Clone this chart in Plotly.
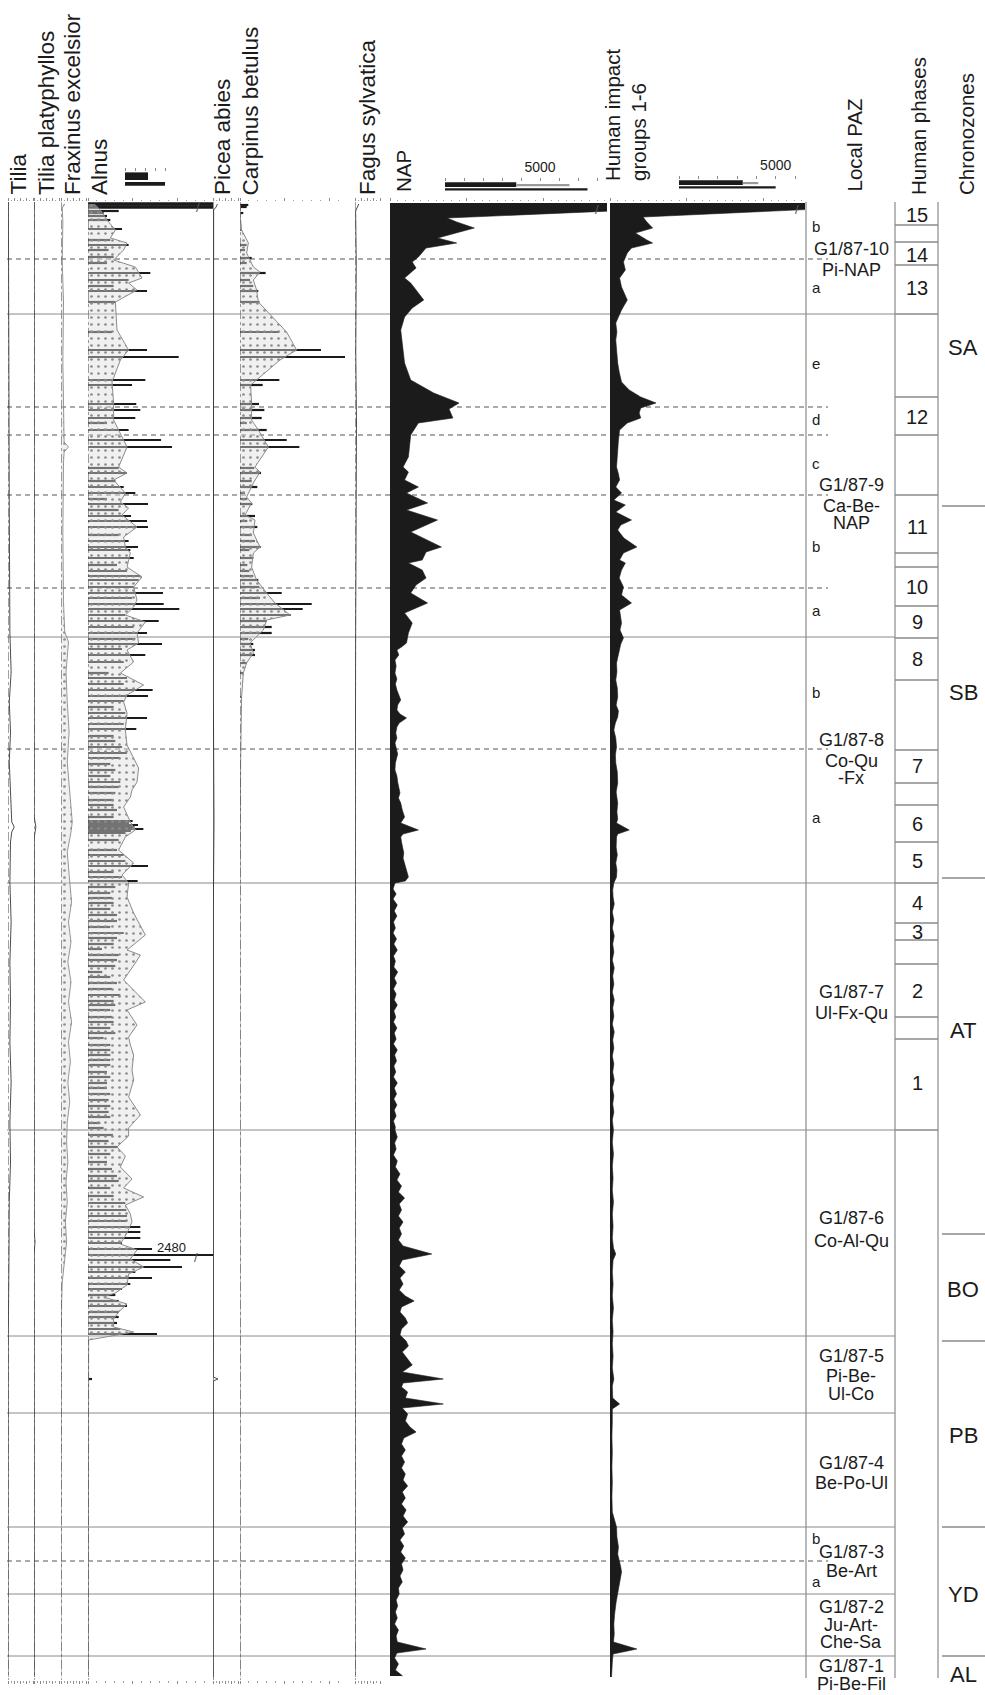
import plotly.graph_objects as go

W, H = 985, 1695
FONT = "Liberation Sans, Arial, Helvetica, sans-serif"
INK = "#1b1b1b"
TOP_PX = 202  # pixel row of depth 0

# ------------------------------------------------------------------ data
# depth scale (cm below top of section)
zone_solid = [112, 435, 681, 928, 1134, 1211, 1325, 1392, 1454]
zone_dashed = [57, 205, 233, 293, 386, 547, 1359]

phase_bounds = [23, 40, 63, 112, 195, 233, 293, 351, 365, 404, 436, 478, 548, 581,
                603, 640, 681, 721, 738, 762, 815, 837, 928]
phase_labels = ["15", "14", "13", "12", "11", "10", "9", "8", "7", "6", "5", "4", "3", "2", "1"]
phase_label_depth = [13, 53, 86, 215, 325, 385, 420, 457, 564, 622, 659, 701, 730, 789, 881]

chrono_bounds = [304, 676, 1032, 1139, 1325, 1454]
chrono_labels = ["SA", "SB", "AT", "BO", "PB", "YD", "AL"]
chrono_label_depth = [145, 491, 828, 1087, 1233, 1392, 1472]

paz_blocks = [
    (["G1/87-10", "Pi-NAP"], [47, 68]),
    (["G1/87-9", "Ca-Be-", "NAP"], [283, 304, 321]),
    (["G1/87-8", "Co-Qu", "-Fx"], [538, 559, 576]),
    (["G1/87-7", "Ul-Fx-Qu"], [790, 811]),
    (["G1/87-6", "Co-Al-Qu"], [1016, 1039]),
    (["G1/87-5", "Pi-Be-", "Ul-Co"], [1154, 1174, 1192]),
    (["G1/87-4", "Be-Po-Ul"], [1261, 1281]),
    (["G1/87-3", "Be-Art"], [1350, 1369]),
    (["G1/87-2", "Ju-Art-", "Che-Sa"], [1405, 1423, 1440]),
    (["G1/87-1", "Pi-Be-Fil"], [1464, 1482]),
]
subzone_letters = ["b", "a", "e", "d", "c", "b", "a", "b", "a", "b", "a"]
subzone_depth = [25, 85, 161, 218, 261, 344, 409, 491, 616, 1336, 1379]

# NAP (concentration)
nap_depth = [1, 6, 16, 20, 26, 36, 41, 46, 55, 60, 66, 76, 81, 98, 106, 115, 128, 148, 161, 178,
             191, 201, 207, 216, 221, 233, 255, 265, 270, 278, 285, 291, 301, 308, 318, 330, 345,
             350, 358, 361, 368, 376, 383, 391, 401, 411, 421, 431, 441, 445, 448, 453, 458, 464,
             471, 477, 482, 488, 493, 498, 503, 508, 512, 516, 521, 525, 531, 536, 541, 547, 552,
             555, 561, 568, 574, 580, 585, 591, 596, 601, 608, 615, 621, 628, 632, 635, 640, 645,
             651, 656, 661, 667, 671, 675, 679, 681, 687, 692, 697, 703, 709, 714, 720, 726, 731,
             737, 742, 748, 754, 759, 765, 770, 776, 781, 787, 792, 798, 803, 809, 815, 820, 826,
             831, 837, 842, 848, 853, 859, 864, 870, 875, 881, 886, 892, 897, 903, 908, 914, 919,
             925, 928, 935, 941, 947, 953, 959, 965, 972, 978, 984, 990, 996, 1002, 1008, 1014,
             1020, 1026, 1032, 1038, 1044, 1052, 1058, 1064, 1070, 1076, 1082, 1088, 1094, 1099,
             1105, 1110, 1116, 1121, 1127, 1133, 1139, 1144, 1150, 1156, 1163, 1170, 1177, 1181,
             1185, 1190, 1196, 1202, 1206, 1212, 1219, 1225, 1230, 1236, 1242, 1248, 1254, 1260,
             1266, 1272, 1278, 1284, 1290, 1296, 1302, 1308, 1314, 1320, 1326, 1332, 1338, 1344,
             1350, 1356, 1362, 1368, 1374, 1380, 1386, 1392, 1398, 1404, 1410, 1416, 1422, 1428,
             1434, 1440, 1447, 1451, 1456, 1462, 1468, 1474]
nap_value = [7500, 3800, 745, 870, 1100, 620, 870, 470, 370, 290, 340, 190, 270, 440, 290, 190, 140,
             170, 190, 270, 570, 900, 770, 820, 370, 270, 240, 170, 240, 190, 370, 215, 490, 215,
             620, 270, 670, 470, 420, 240, 420, 470, 340, 270, 490, 190, 290, 240, 215, 150, 90,
             115, 65, 80, 65, 90, 70, 90, 110, 140, 100, 90, 130, 215, 120, 90, 75, 90, 65, 80,
             100, 90, 70, 65, 90, 100, 115, 130, 110, 140, 160, 190, 140, 370, 170, 140, 150, 165,
             180, 170, 190, 215, 230, 240, 200, 65, 40, 80, 40, 95, 55, 90, 45, 70, 40, 85, 50, 95,
             45, 70, 50, 100, 55, 85, 45, 80, 55, 95, 50, 75, 45, 90, 55, 80, 45, 95, 60, 85, 50,
             75, 45, 95, 55, 85, 50, 90, 55, 80, 45, 70, 65, 95, 60, 80, 45, 95, 70, 130, 90, 150,
             110, 190, 120, 150, 110, 170, 120, 150, 110, 170, 545, 160, 120, 200, 130, 170, 120,
             200, 315, 150, 130, 200, 230, 150, 130, 210, 240, 160, 220, 290, 160, 695, 170, 150,
             230, 200, 695, 160, 230, 200, 260, 340, 180, 150, 200, 150, 190, 150, 200, 170, 230,
             160, 200, 150, 210, 170, 230, 160, 190, 130, 180, 140, 200, 150, 170, 130, 160, 110,
             120, 80, 100, 70, 95, 60, 110, 80, 95, 470, 90, 60, 110, 70, 165]

# Human impact groups 1-6 (concentration)
human_depth = [1, 6, 15, 20, 26, 31, 38, 41, 46, 51, 60, 68, 76, 85, 98, 108, 121, 130, 138, 150,
               161, 170, 180, 188, 195, 201, 206, 211, 216, 221, 228, 238, 248, 257, 265, 272, 278,
               285, 291, 298, 303, 310, 318, 323, 328, 336, 345, 351, 358, 361, 368, 376, 385, 393,
               401, 408, 414, 421, 428, 436, 442, 448, 455, 461, 470, 478, 486, 495, 503, 509, 515,
               521, 528, 536, 545, 553, 561, 570, 581, 590, 601, 610, 617, 621, 628, 632, 635, 645,
               653, 661, 668, 675, 681, 688, 695, 702, 710, 718, 726, 734, 742, 750, 758, 766, 774,
               782, 790, 798, 806, 814, 822, 830, 838, 846, 854, 862, 870, 878, 886, 894, 902, 910,
               918, 928, 940, 952, 964, 976, 988, 1000, 1012, 1024, 1036, 1046, 1052, 1058, 1070,
               1082, 1094, 1106, 1118, 1130, 1142, 1154, 1166, 1177, 1184, 1196, 1202, 1207, 1220,
               1235, 1250, 1265, 1280, 1295, 1310, 1325, 1335, 1345, 1352, 1359, 1365, 1370, 1378,
               1389, 1400, 1412, 1422, 1432, 1440, 1447, 1452, 1460, 1468, 1475]
human_value = [5000, 3000, 430, 480, 555, 330, 480, 555, 280, 225, 175, 200, 125, 150, 225, 150, 75,
               90, 75, 85, 100, 120, 150, 250, 400, 600, 400, 380, 400, 225, 125, 110, 100, 90, 85,
               110, 125, 75, 150, 50, 200, 75, 280, 140, 100, 180, 350, 175, 125, 200, 150, 120,
               175, 150, 280, 125, 140, 150, 130, 175, 140, 125, 100, 85, 90, 75, 95, 100, 80, 110,
               100, 70, 50, 75, 85, 70, 75, 95, 100, 80, 100, 90, 100, 85, 250, 100, 85, 80, 95, 75,
               90, 85, 50, 35, 40, 55, 30, 50, 30, 55, 35, 50, 30, 55, 35, 50, 30, 55, 35, 50, 30,
               55, 35, 50, 30, 50, 35, 55, 30, 50, 35, 50, 30, 45, 30, 45, 30, 40, 30, 45, 30, 40,
               30, 45, 75, 40, 30, 40, 30, 45, 30, 40, 30, 40, 30, 50, 30, 35, 125, 30, 30, 25, 30,
               25, 30, 25, 30, 85, 90, 110, 100, 125, 140, 150, 130, 100, 80, 60, 50, 55, 45, 350,
               40, 30, 25, 20]

# Alnus: concentration (bars) and percentage (stippled curve)
alnus_conc_depth = [2, 5, 9, 11, 14, 18, 27, 38, 43, 48, 55, 61, 71, 78, 84, 89, 100, 130, 148, 155,
                    178, 183, 202, 208, 216, 221, 228, 238, 245, 266, 271, 279, 285, 291, 297, 302,
                    308, 314, 319, 325, 333, 339, 345, 348, 356, 363, 369, 374, 378, 385, 391, 396,
                    402, 407, 413, 419, 425, 431, 437, 442, 447, 453, 460, 471, 476, 482, 488, 494,
                    499, 505, 511, 516, 522, 527, 534, 539, 545, 551, 556, 562, 568, 574, 580, 585,
                    591, 598, 603, 608, 615, 619, 621, 623, 625, 627, 629, 631, 638, 648, 653, 659,
                    664, 670, 675, 679, 685, 691, 696, 701, 707, 713, 719, 725, 731, 736, 742, 747,
                    753, 758, 764, 770, 775, 781, 787, 793, 799, 803, 808, 815, 820, 826, 831, 836,
                    843, 848, 853, 858, 863, 870, 875, 881, 886, 892, 898, 904, 910, 915, 921, 926,
                    933, 939, 945, 952, 960, 967, 974, 979, 986, 994, 1001, 1008, 1014, 1019, 1025,
                    1030, 1036, 1041, 1047, 1053, 1058, 1065, 1070, 1076, 1082, 1087, 1093, 1099,
                    1104, 1110, 1115, 1121, 1127, 1132, 1177]
alnus_conc = [8000, 4600, 344, 175, 213, 250, 381, 250, 455, 231, 287, 213, 698, 455, 287, 661, 306,
              269, 661, 1016, 642, 493, 541, 586, 530, 213, 455, 818, 941, 344, 437, 306, 400, 530,
              213, 672, 344, 482, 661, 672, 344, 455, 560, 474, 512, 325, 437, 586, 568, 512, 840,
              493, 848, 1023, 418, 792, 512, 661, 530, 829, 381, 642, 400, 231, 437, 400, 724, 672,
              400, 287, 418, 661, 400, 541, 287, 306, 381, 437, 362, 250, 306, 250, 362, 344, 306,
              287, 287, 325, 287, 500, 460, 560, 520, 620, 480, 420, 344, 325, 400, 418, 672, 287,
              381, 556, 306, 250, 269, 287, 250, 325, 325, 250, 400, 325, 287, 157, 344, 325, 306,
              160, 250, 325, 269, 362, 287, 306, 250, 269, 287, 250, 306, 175, 250, 250, 250, 250,
              250, 213, 250, 213, 213, 250, 231, 250, 231, 250, 138, 175, 280, 231, 325, 250, 213,
              269, 325, 344, 250, 287, 418, 429, 437, 437, 586, 586, 586, 381, 717, 2480, 922, 1053,
              530, 717, 474, 381, 306, 344, 437, 344, 344, 325, 362, 773, 45]
alnus_pct_depth = [2, 8, 18, 28, 36, 41, 48, 58, 65, 76, 81, 88, 100, 128, 148, 158, 180, 201, 218,
                   228, 245, 265, 271, 278, 285, 291, 300, 306, 313, 325, 335, 345, 351, 365, 375,
                   385, 398, 405, 413, 420, 431, 441, 448, 460, 471, 483, 493, 500, 511, 528, 543,
                   566, 580, 588, 595, 605, 620, 628, 635, 648, 661, 673, 681, 695, 711, 733, 748,
                   753, 761, 778, 800, 808, 823, 835, 843, 853, 868, 878, 895, 913, 926, 934, 945,
                   954, 965, 977, 986, 995, 1003, 1012, 1020, 1031, 1042, 1048, 1057, 1065, 1072,
                   1083, 1091, 1095, 1102, 1110, 1117, 1125, 1130, 1138, 1475]
alnus_pct = [5, 9.9, 15.2, 21.9, 17.9, 31.2, 28.5, 20.5, 37.9, 43.2, 32.5, 39.2, 21.9, 23.2, 32.5,
             25.9, 19.2, 20.5, 20.5, 24.5, 31.2, 24.5, 31.2, 20.5, 25.9, 29.9, 25.9, 32.5, 27.2,
             39.2, 28.5, 29.9, 33.9, 31.2, 43.2, 36.5, 39.2, 36.5, 29.9, 45.9, 39.2, 40.5, 31.2,
             36.5, 25.9, 44.5, 31.2, 28.5, 31.2, 29.9, 31.2, 40.5, 39.2, 35.2, 33.9, 28.5, 33.9,
             37.9, 29.9, 24.5, 36.5, 27.2, 32.5, 31.2, 36.5, 45.9, 31.2, 41.9, 37.9, 28.5, 45.9,
             31.2, 39.2, 32.5, 33.9, 36.5, 35.2, 36.5, 32.5, 41.9, 32.5, 32.5, 23.2, 29.9, 25.9,
             35.2, 28.5, 44.5, 29.9, 33.9, 35.2, 31.2, 25.9, 39.2, 33.9, 44.5, 32.5, 31.2, 21.9,
             12.5, 31.2, 24.5, 20.5, 20.5, 36.5, 0.5, 0.3]

# Carpinus betulus: concentration (bars) and percentage (stippled curve)
carp_conc_depth = [3, 5, 11, 28, 43, 48, 56, 61, 71, 78, 84, 89, 100, 130, 148, 155, 178, 183, 202,
                   208, 216, 221, 228, 238, 245, 266, 271, 279, 285, 291, 297, 302, 314, 319, 325,
                   333, 339, 345, 348, 356, 363, 369, 374, 378, 385, 391, 396, 402, 407, 413, 419,
                   425, 431, 437, 442, 448, 453, 461, 471, 495]
carp_conc = [93, 75, 37, 19, 75, 56, 131, 75, 287, 112, 149, 205, 217, 441, 907, 1221, 441, 254, 213,
             273, 243, 75, 299, 523, 665, 161, 235, 131, 194, 56, 82, 138, 168, 82, 194, 131, 168,
             231, 105, 149, 82, 105, 149, 205, 217, 467, 224, 803, 702, 567, 299, 355, 355, 93, 149,
             168, 168, 75, 37, 19]
carp_pct_depth = [3, 11, 28, 41, 51, 65, 70, 78, 88, 100, 130, 148, 158, 178, 183, 201, 218, 228,
                  245, 265, 270, 281, 288, 295, 301, 313, 318, 331, 345, 351, 365, 378, 391, 401,
                  413, 418, 428, 441, 451, 461, 471, 495, 561, 661, 700, 1475]
carp_pct = [0.5, 0, 1.3, 6.7, 5.3, 10.7, 16, 10.7, 13.3, 14.7, 37.3, 45.3, 32, 13.3, 8.5, 9.3, 9.3,
            14.7, 22.7, 12, 16, 10.7, 8, 5.3, 9.3, 4, 12, 10.7, 16, 10.7, 9.3, 13.3, 21.3, 28, 40,
            21.3, 18.7, 8, 10.7, 5.3, 2.7, 1.3, 0.5, 0.3, 0, 0]

# minor taxa (percentages)
tilia_depth = [0, 200, 300, 430, 470, 500, 530, 560, 600, 620, 625, 630, 640, 680, 720, 760, 800,
               840, 880, 920, 960, 1000, 1050, 1100, 1140, 1475]
tilia_pct = [0.3, 0.5, 1, 1.5, 2.5, 1, 2, 1, 2, 3, 5, 3, 2, 1.5, 2.5, 1.5, 2, 1.5, 2.5, 1.5, 2, 1,
             0.8, 0.5, 0.2, 0]
tiliap_depth = [0, 420, 430, 440, 615, 625, 635, 1030, 1040, 1050, 1475]
tiliap_pct = [0.2, 0.2, 0.6, 0.2, 0.2, 1.5, 0.2, 0.2, 0.8, 0.2, 0.2]
frax_depth = [2, 6, 20, 60, 100, 160, 200, 240, 245, 250, 260, 330, 400, 430, 440, 470, 500, 530,
              560, 590, 620, 630, 650, 680, 700, 720, 740, 760, 780, 800, 820, 840, 860, 880, 900,
              920, 940, 960, 980, 1000, 1020, 1040, 1060, 1080, 1100, 1140, 1475]
frax_pct = [3, 1, 1.5, 1, 2, 1.5, 2, 2.5, 6, 2.5, 2, 1.5, 2, 3, 6, 4, 5, 6.5, 5, 7, 9, 8, 5, 7, 8.5,
            6, 8, 5.5, 8, 6, 8.5, 6, 7.5, 5.5, 7, 5, 4.5, 5.5, 4, 5, 3.5, 4.5, 3, 1, 0.5, 0.3, 0]
picea_depth = [2, 5, 8, 100, 200, 300, 400, 500, 620, 700, 900, 1100, 1175, 1177, 1179, 1475]
picea_pct = [3.5, 2.5, 0.5, 0.4, 0.6, 0.5, 0.6, 0.3, 0.8, 0.3, 0.3, 0.2, 0.2, 4, 0.2, 0.1]
fagus_depth = [2, 5, 9, 60, 100, 150, 220, 300, 380, 440, 600, 900, 1475]
fagus_pct = [3, 2, 0.5, 1, 0.8, 0.6, 1.2, 0.8, 1, 0.5, 0.3, 0.2, 0.1]

# values of the top samples beyond the column width (broken-scale insets)
alnus_top = [4600, 8000]
nap_top = [3750, 7500]
nap_top_grey = 6550
human_top = [3300, 5000]
human_top_grey = 4100

# ------------------------------------------------------------------ helpers
def xd(a, b):
    return [a / W, b / W]


def yd(top, bot):
    return [1 - bot / H, 1 - top / H]


def px(p):
    return p / W


def py(p):
    return 1 - p / H


def pdepth(d):
    # paper coordinate of a depth (1 depth unit = 1 pixel row below TOP_PX)
    return py(TOP_PX + d)


fig = go.Figure()
layout = dict(width=W, height=H, margin=dict(l=0, r=0, t=0, b=0), paper_bgcolor="white",
              plot_bgcolor="rgba(0,0,0,0)", showlegend=False, font=dict(family=FONT, color=INK))

layout["yaxis"] = dict(domain=yd(TOP_PX, TOP_PX + 1478), range=[1478, 0], visible=False,
                       fixedrange=True)


def panel(name, x0, x1, rng, dtick, minor=None, mirror=True):
    ax = dict(domain=xd(x0, x1), range=rng, anchor="y", side="top", showgrid=False,
              zeroline=False, showline=False, ticks="outside", ticklen=3, tickwidth=1,
              tickcolor="#8a8a8a", showticklabels=False, tick0=0, dtick=dtick, fixedrange=True)
    if mirror:
        ax["mirror"] = "ticks"
    if minor:
        ax["minor"] = dict(ticks="outside", ticklen=1.5, dtick=minor, tickcolor="#a0a0a0",
                           tickwidth=1)
    layout[name] = ax


panel("xaxis", 8, 33, [0, 20], 5, 2.5)
panel("xaxis2", 34, 59, [0, 20], 5, 2.5)
panel("xaxis3", 61, 86, [0, 20], 5, 2.5)
panel("xaxis4", 88, 213, [0, 1400], 500, 100)
layout["xaxis5"] = dict(overlaying="x4", range=[0, 100], visible=False, anchor="y", fixedrange=True)
panel("xaxis6", 213, 238, [0, 20], 5, 2.5)
panel("xaxis7", 240, 345, [0, 1176], 500, 100)
layout["xaxis8"] = dict(overlaying="x7", range=[0, 84], visible=False, anchor="y", fixedrange=True)
panel("xaxis9", 355, 380, [0, 20], 5, 2.5)
panel("xaxis10", 390, 607, [0, 2830], 1000, 100, mirror=False)
panel("xaxis11", 610, 805, [0, 2540], 1000, 100, mirror=False)

STIP = dict(shape=".", size=7, solidity=0.12, fgcolor="#8c8c8c",
            bgcolor="rgba(222,222,222,0.45)", fillmode="replace")

# minor taxa
for xa, d, v in [("x", tilia_depth, tilia_pct), ("x2", tiliap_depth, tiliap_pct),
                 ("x6", picea_depth, picea_pct), ("x9", fagus_depth, fagus_pct)]:
    fig.add_trace(go.Scatter(x=v, y=d, mode="lines", xaxis=xa, yaxis="y",
                             line=dict(color="#3a3a3a", width=0.9), hoverinfo="skip"))
fig.add_trace(go.Scatter(x=frax_pct, y=frax_depth, mode="lines", xaxis="x3", yaxis="y",
                         fill="tozerox", fillpattern=STIP, line=dict(color="#7f7f7f", width=0.8),
                         hoverinfo="skip"))

# Alnus
fig.add_trace(go.Scatter(x=alnus_pct, y=alnus_pct_depth, mode="lines", xaxis="x5", yaxis="y",
                         fill="tozerox", fillpattern=STIP, line=dict(color="#8c8c8c", width=1),
                         hoverinfo="skip"))
fig.add_trace(go.Bar(x=alnus_conc, y=alnus_conc_depth, orientation="h", xaxis="x4", yaxis="y",
                     width=[3.4 if v > 2600 else 2.2 for v in alnus_conc],
                     marker=dict(color=INK, line=dict(width=0)), hoverinfo="skip"))
# Carpinus
fig.add_trace(go.Scatter(x=carp_pct, y=carp_pct_depth, mode="lines", xaxis="x8", yaxis="y",
                         fill="tozerox", fillpattern=STIP, line=dict(color="#8c8c8c", width=1),
                         hoverinfo="skip"))
fig.add_trace(go.Bar(x=carp_conc, y=carp_conc_depth, orientation="h", xaxis="x7", yaxis="y",
                     width=2.2, marker=dict(color=INK, line=dict(width=0)), hoverinfo="skip"))
# NAP and human impact silhouettes
fig.add_trace(go.Scatter(x=nap_value, y=nap_depth, mode="lines", xaxis="x10", yaxis="y",
                         fill="tozerox", fillcolor=INK, line=dict(color=INK, width=0.6),
                         hoverinfo="skip"))
fig.add_trace(go.Scatter(x=human_value, y=human_depth, mode="lines", xaxis="x11", yaxis="y",
                         fill="tozerox", fillcolor=INK, line=dict(color=INK, width=0.6),
                         hoverinfo="skip"))

# ---- broken-scale insets in the header
def inset(xname, yname, x0, x1, top, bot, rng, dtick, labelled=None):
    ax = dict(domain=xd(x0, x1), range=rng, anchor=yname.replace("axis", ""), side="top",
              showgrid=False, zeroline=False, showline=False, ticks="outside", ticklen=3,
              tickcolor="#8a8a8a", tickwidth=1, fixedrange=True, tick0=0, dtick=dtick,
              showticklabels=False)
    if labelled:
        vals = list(range(0, rng[1] + 1, dtick))
        ax.update(tickmode="array", tickvals=vals,
                  ticktext=[str(v) if v == labelled else "" for v in vals],
                  showticklabels=True, tickfont=dict(size=14, color=INK, family=FONT),
                  ticklabelstandoff=0)
    layout[xname] = ax
    layout[yname] = dict(domain=yd(top, bot), range=[1.55, -0.55], visible=False,
                         anchor=xname.replace("axis", ""), fixedrange=True)


inset("xaxis12", "yaxis2", 125, 166, 172, 188, [0, 8200], 2000)
inset("xaxis13", "yaxis3", 445, 597, 182, 192, [0, 8000], 1000, labelled=5000)
inset("xaxis14", "yaxis4", 679, 795, 180, 190, [0, 6000], 1000, labelled=5000)

for xa, ya, vals, grey in [("x12", "y2", alnus_top, None), ("x13", "y3", nap_top, nap_top_grey),
                           ("x14", "y4", human_top, human_top_grey)]:
    fig.add_trace(go.Bar(x=vals, y=[0, 1], orientation="h", xaxis=xa, yaxis=ya,
                         width=[1.0, 0.5], marker=dict(color=INK, line=dict(width=0)),
                         hoverinfo="skip"))
    if grey is not None:
        fig.add_trace(go.Bar(x=[grey - vals[0]], base=[vals[0]], y=[0.15], orientation="h",
                             xaxis=xa, yaxis=ya, width=0.35,
                             marker=dict(color="#9a9a9a", line=dict(width=0)), hoverinfo="skip"))

# ------------------------------------------------------------------ lines
shapes = []
for d in zone_solid:
    shapes.append(dict(type="line", xref="paper", yref="y", x0=px(7), x1=px(895), y0=d, y1=d,
                       line=dict(color="#8a8a8a", width=1), layer="below"))
for d in zone_dashed:
    shapes.append(dict(type="line", xref="paper", yref="y", x0=px(7), x1=px(828), y0=d, y1=d,
                       line=dict(color="#555555", width=1, dash="5px,4px"), layer="below"))
for d in phase_bounds:
    shapes.append(dict(type="line", xref="paper", yref="y", x0=px(895), x1=px(938), y0=d, y1=d,
                       line=dict(color="#8a8a8a", width=1.3), layer="below"))
for d in chrono_bounds:
    shapes.append(dict(type="line", xref="paper", yref="y", x0=px(942), x1=px(985), y0=d, y1=d,
                       line=dict(color="#8a8a8a", width=1.3), layer="below"))
for xp in (806, 895, 938):
    shapes.append(dict(type="line", xref="paper", yref="y", x0=px(xp), x1=px(xp), y0=0, y1=1476,
                       line=dict(color="#8a8a8a", width=1.2), layer="below"))
# column base lines of the curves
for xa, style in [("x", "dashdot"), ("x2", "dashdot"), ("x3", "dashdot"), ("x4", "dashdot"),
                  ("x6", "solid"), ("x7", "dashdot"), ("x9", "dashdot")]:
    shapes.append(dict(type="line", xref=xa, yref="y", x0=0, x1=0, y0=0, y1=1478,
                       line=dict(color="#444444" if style == "dashdot" else "#2a2a2a",
                                 width=1, dash=style), layer="above"))
layout["shapes"] = shapes

# ------------------------------------------------------------------ text
ann = []
header = [("Tilia", 18, 197, 22.5), ("Tilia platyphyllos", 46, 197, 22.5),
          ("Fraxinus excelsior", 72, 197, 22.5), ("Alnus", 99, 197, 22.5),
          ("Picea abies", 222, 197, 22.5), ("Carpinus betulus", 250, 197, 22.5),
          ("Fagus sylvatica", 367, 197, 22.5), ("NAP", 404, 194, 20.5),
          ("Human impact", 612, 183, 20.5), ("groups 1-6", 638, 183, 20.5),
          ("Local PAZ", 854, 194, 20.5), ("Human phases", 918, 197, 20.5),
          ("Chronozones", 966, 197, 20.5)]
for t, xc, yb, s in header:
    ann.append(dict(text=t, xref="paper", yref="paper", x=px(xc), y=py(yb), xanchor="center",
                    yanchor="bottom", textangle=-90, showarrow=False,
                    font=dict(size=s, family=FONT, color=INK)))

for lines, depths in paz_blocks:
    for t, d in zip(lines, depths):
        ann.append(dict(text=t, xref="paper", yref="paper", x=px(851), y=pdepth(d),
                        xanchor="center", yanchor="middle", showarrow=False,
                        font=dict(size=18, color=INK)))
for t, d in zip(subzone_letters, subzone_depth):
    ann.append(dict(text=t, xref="paper", yref="paper", x=px(810), y=pdepth(d), xanchor="left",
                    yanchor="middle", showarrow=False, font=dict(size=15, color=INK)))
for t, d in zip(phase_labels, phase_label_depth):
    ann.append(dict(text=t, xref="paper", yref="paper", x=px(917), y=pdepth(d),
                    xanchor="center", yanchor="middle", showarrow=False,
                    font=dict(size=20, color=INK)))
for t, d in zip(chrono_labels, chrono_label_depth):
    ann.append(dict(text=t, xref="paper", yref="paper", x=px(963), y=pdepth(d),
                    xanchor="center", yanchor="middle", showarrow=False,
                    font=dict(size=22, color=INK)))

# value label of the truncated Alnus bar and break marks
big = max(alnus_conc[2:])
big_depth = alnus_conc_depth[alnus_conc.index(big)]
ann.append(dict(text=str(big), xref="x4", yref="y", x=940, y=big_depth - 8, xanchor="center",
                yanchor="middle", showarrow=False, font=dict(size=13, color=INK)))
for xa, xv, d in [("x4", 1230, 6), ("x4", 1215, big_depth + 2),
                  ("x10", 2700, 8), ("x11", 2430, 8)]:
    ann.append(dict(text="/", xref=xa, yref="y", x=xv, y=d, showarrow=False,
                    font=dict(size=13, color="#555555")))
layout["annotations"] = ann

fig.update_layout(**layout)
fig.write_html("out.html", include_plotlyjs=True, config={"displayModeBar": False},
               post_script="document.body.style.margin='0px';"
                           "document.body.style.overflow='hidden';")
